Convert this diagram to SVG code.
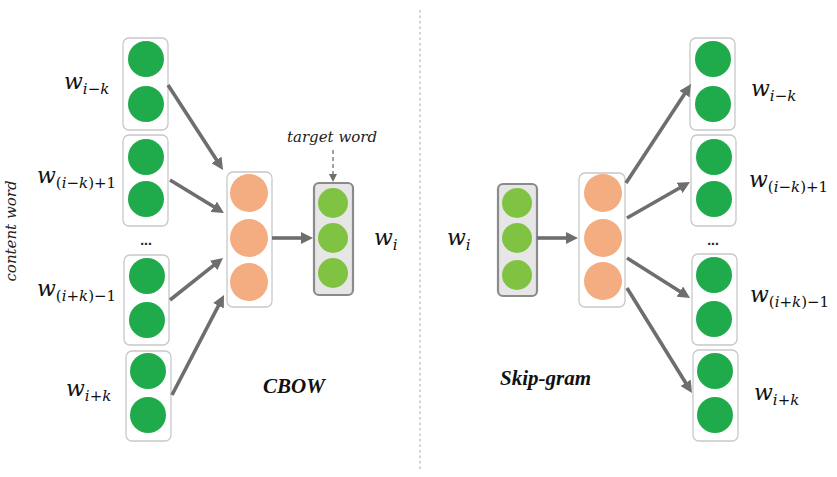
<svg xmlns="http://www.w3.org/2000/svg" width="837" height="477" viewBox="0 0 837 477">
<style>
.box{fill:#fff;stroke:#c8c8c8;stroke-width:1.3}
.tbox{fill:#e6e6e6;stroke:#8a8a8a;stroke-width:2.2}
.g{fill:#1faa4b}
.lg{fill:#80c342}
.o{fill:#f4ad80}
.lbl{font-family:'DejaVu Serif',serif;font-style:italic;font-size:22px;fill:#111}
.sub{font-size:15px}
.up{font-style:normal}
.arr{stroke:#6e6e6e;stroke-width:3.6;fill:none;marker-end:url(#ah)}
.title{font-family:'Liberation Serif',serif;font-style:italic;font-weight:700;font-size:21px;fill:#111}
.note{font-family:'DejaVu Serif',serif;font-style:italic;font-size:15px;fill:#222}
.dots{font-family:'Liberation Sans',sans-serif;font-weight:bold;font-size:14px;fill:#222}
</style>
<defs>
<marker id="ah" markerUnits="userSpaceOnUse" viewBox="0 0 12 12" markerWidth="12" markerHeight="12" refX="2" refY="6" orient="auto"><path d="M0,0 L12,6 L0,12 z" fill="#6e6e6e"/></marker>
<marker id="ah2" markerUnits="userSpaceOnUse" viewBox="0 0 8 8" markerWidth="8" markerHeight="8" refX="1" refY="4" orient="auto"><path d="M0,0 L8,4 L0,8 z" fill="#6e6e6e"/></marker>
</defs>
<rect width="837" height="477" fill="#fff"/>
<line x1="420" y1="10" x2="420" y2="470" stroke="#a9c3d3" stroke-width="1.3" stroke-dasharray="2.5,3"/>
<text class="note" transform="translate(16,231) rotate(-90)" text-anchor="middle">content word</text>

<g id="cbow-in1"><rect class="box" x="123" y="38" width="45" height="92" rx="6"/><circle class="g" cx="146" cy="59" r="18"/><circle class="g" cx="146" cy="104" r="18"/></g>
<g id="cbow-in2"><rect class="box" x="123" y="135" width="45" height="91" rx="6"/><circle class="g" cx="146" cy="157" r="18"/><circle class="g" cx="146" cy="199" r="18"/></g>
<g id="cbow-in3"><rect class="box" x="124" y="255" width="45" height="90" rx="6"/><circle class="g" cx="147" cy="276" r="18"/><circle class="g" cx="147" cy="320" r="18"/></g>
<g id="cbow-in4"><rect class="box" x="126" y="351" width="45" height="90" rx="6"/><circle class="g" cx="148" cy="371" r="18"/><circle class="g" cx="148" cy="415" r="18"/></g>
<text class="dots" x="146" y="245" text-anchor="middle">...</text>

<text class="lbl" x="64" y="89">w<tspan class="sub" dy="5">i<tspan class="up">−</tspan>k</tspan></text>
<text class="lbl" x="37" y="183">w<tspan class="sub" dy="5"><tspan class="up">(</tspan>i<tspan class="up">−</tspan>k<tspan class="up">)+1</tspan></tspan></text>
<text class="lbl" x="37" y="296">w<tspan class="sub" dy="5"><tspan class="up">(</tspan>i<tspan class="up">+</tspan>k<tspan class="up">)−1</tspan></tspan></text>
<text class="lbl" x="66" y="396">w<tspan class="sub" dy="5">i<tspan class="up">+</tspan>k</tspan></text>

<g id="cbow-hidden"><rect class="box" x="227" y="172" width="45" height="135" rx="6"/><circle class="o" cx="249" cy="193" r="19"/><circle class="o" cx="249" cy="238" r="19"/><circle class="o" cx="249" cy="282" r="19"/></g>
<g id="cbow-out"><rect class="tbox" x="314" y="183" width="39" height="112" rx="5"/><circle class="lg" cx="333" cy="203" r="15"/><circle class="lg" cx="333" cy="238" r="15"/><circle class="lg" cx="333" cy="273" r="15"/></g>
<text class="note" x="332" y="142" text-anchor="middle">target word</text>
<text class="lbl" x="374" y="245">w<tspan class="sub" dy="5">i</tspan></text>
<text class="title" x="263" y="393">CBOW</text>

<g id="sg-in"><rect class="tbox" x="498" y="184" width="39" height="112" rx="5"/><circle class="lg" cx="517" cy="203" r="15"/><circle class="lg" cx="517" cy="238" r="15"/><circle class="lg" cx="517" cy="275" r="15"/></g>
<text class="lbl" x="447" y="245">w<tspan class="sub" dy="5">i</tspan></text>
<g id="sg-hidden"><rect class="box" x="579" y="173" width="46" height="134" rx="6"/><circle class="o" cx="603" cy="193" r="19"/><circle class="o" cx="603" cy="238" r="19"/><circle class="o" cx="603" cy="281" r="19"/></g>

<g id="sg-out1"><rect class="box" x="690" y="38" width="45" height="92" rx="6"/><circle class="g" cx="713" cy="59" r="18"/><circle class="g" cx="713" cy="104" r="18"/></g>
<g id="sg-out2"><rect class="box" x="691" y="135" width="45" height="91" rx="6"/><circle class="g" cx="714" cy="157" r="18"/><circle class="g" cx="714" cy="199" r="18"/></g>
<g id="sg-out3"><rect class="box" x="692" y="254" width="45" height="91" rx="6"/><circle class="g" cx="714" cy="275" r="18"/><circle class="g" cx="714" cy="319" r="18"/></g>
<g id="sg-out4"><rect class="box" x="693" y="350" width="45" height="91" rx="6"/><circle class="g" cx="715" cy="371" r="18"/><circle class="g" cx="715" cy="415" r="18"/></g>
<text class="dots" x="713" y="245" text-anchor="middle">...</text>

<text class="lbl" x="751" y="96">w<tspan class="sub" dy="5">i<tspan class="up">−</tspan>k</tspan></text>
<text class="lbl" x="749" y="187">w<tspan class="sub" dy="5"><tspan class="up">(</tspan>i<tspan class="up">−</tspan>k<tspan class="up">)+1</tspan></tspan></text>
<text class="lbl" x="750" y="302">w<tspan class="sub" dy="5"><tspan class="up">(</tspan>i<tspan class="up">+</tspan>k<tspan class="up">)−1</tspan></tspan></text>
<text class="lbl" x="754" y="400">w<tspan class="sub" dy="5">i<tspan class="up">+</tspan>k</tspan></text>
<text class="title" x="500" y="385">Skip-gram</text>

<g id="connectors">
<line class="arr" x1="168" y1="85" x2="217.6" y2="161.6"/>
<line class="arr" x1="170" y1="180" x2="215.5" y2="207.8"/>
<line class="arr" x1="170" y1="300" x2="215.2" y2="264.2"/>
<line class="arr" x1="172" y1="395" x2="219.4" y2="303.9"/>
<line class="arr" x1="272" y1="238" x2="303" y2="238"/>
<line x1="333" y1="150" x2="333" y2="175" stroke="#6e6e6e" stroke-width="1.3" stroke-dasharray="4,3" marker-end="url(#ah2)"/>
<line class="arr" x1="537" y1="238" x2="568" y2="238"/>
<line class="arr" x1="626" y1="183" x2="685.5" y2="92.4"/>
<line class="arr" x1="627" y1="218" x2="681.3" y2="187"/>
<line class="arr" x1="627" y1="258" x2="681.6" y2="292.6"/>
<line class="arr" x1="627" y1="288" x2="686.7" y2="384.5"/>
</g>
</svg>
